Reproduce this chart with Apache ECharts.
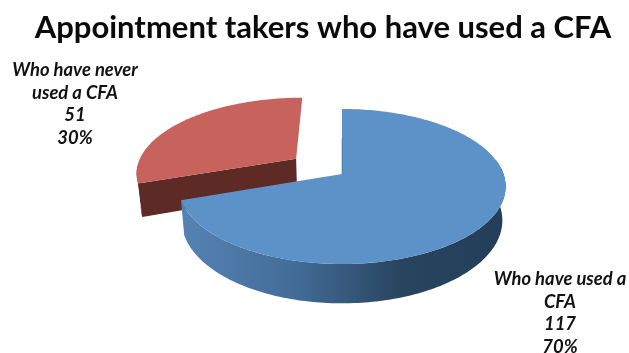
<!DOCTYPE html>
<html>
<head>
<meta charset="utf-8">
<script src="https://cdn.jsdelivr.net/npm/echarts@6/dist/echarts.min.js"></script>
<style>
  html, body { margin: 0; padding: 0; background: #fff; }
  #chart { width: 629px; height: 353px; }
</style>
</head>
<body>
<div id="chart"></div>
<script>
// Chart content
const chartTitle = 'Appointment takers who have used a CFA';
const categories = ['Who have used a\nCFA', 'Who have never\nused a CFA'];
const counts = [117, 51];

// Colours per slice: top surface and side wall
const topColors = ['#5d92c8', '#c8625c'];
const sideColors = [null, '#5e2a26'];
const blueWallStops = [
  { offset: 0, color: '#5483b3' },
  { offset: 0.35, color: '#436c98' },
  { offset: 0.68, color: '#28445f' },
  { offset: 1, color: '#243e5a' }
];

// Projection of the tilted disc onto the page
const view = { cx: 342, cy: 174, rx: 161.5, ry: 75.5, persp: 0.161, depth: 33, shrink: 0.02 };
const explodeBy = [0, 0.36];
const labelAnchors = [[560, 313], [75, 104]];

const total = counts.reduce((s, c) => s + c, 0);

// Maps a disc point (u right, v toward the viewer, z 0 on top and 1 at the base) to the page
function project(u, v, z) {
  const p = 1 / (1 - view.persp * v);
  const s = 1 - view.shrink * z;
  return [view.cx + view.rx * u * p * s, view.cy + (view.ry * v + view.depth * z) * p];
}

function sliceSpan(index) {
  let before = 0;
  for (let i = 0; i < index; i++) before += counts[i];
  return [before / total * Math.PI * 2, (before + counts[index]) / total * Math.PI * 2];
}

// Rim points of a slice between two clockwise angles measured from twelve o'clock
function rim(from, to, off, z) {
  const steps = Math.max(2, Math.ceil(Math.abs(to - from) / 0.02));
  const pts = [];
  for (let i = 0; i <= steps; i++) {
    const t = from + (to - from) * i / steps;
    pts.push(project(off[0] + Math.sin(t), off[1] - Math.cos(t), z));
  }
  return pts;
}

function renderSlice(params, api) {
  const i = params.dataIndex;
  const [start, end] = sliceSpan(i);
  const mid = (start + end) / 2;
  const off = [Math.sin(mid) * explodeBy[i], -Math.cos(mid) * explodeBy[i]];
  const apexTop = project(off[0], off[1], 0);
  const apexBase = project(off[0], off[1], 1);
  const order = i === 0 ? 10 : 1;
  const children = [];

  if (i === 0) {
    // Curved front wall of the large slice, shaded from left to right
    const a = Math.PI * 0.44;
    const wall = rim(a, end, off, 0).concat(rim(a, end, off, 1).reverse());
    children.push({
      type: 'polygon', z2: order, shape: { points: wall },
      style: { fill: new echarts.graphic.LinearGradient(0, 0, 1, 0, blueWallStops) }
    });
  } else {
    // Front-facing cut and the short outer wall of the pulled-out slice
    const cornerTop = rim(start, start, off, 0)[0];
    const cornerBase = rim(start, start, off, 1)[0];
    children.push({
      type: 'polygon', z2: order,
      shape: { points: [apexTop, cornerTop, cornerBase, apexBase] },
      style: { fill: sideColors[i] }
    });
    const a = start + 0.25;
    const wall = rim(start, a, off, 0).concat(rim(start, a, off, 1).reverse());
    children.push({
      type: 'polygon', z2: order, shape: { points: wall },
      style: { fill: sideColors[i] }
    });
  }

  children.push({
    type: 'polygon', z2: order + 1,
    shape: { points: [apexTop].concat(rim(start, end, off, 0)) },
    style: { fill: topColors[i] }
  });

  if (i === 0) {
    // Thin shaded seam along the cut that is seen edge-on at twelve o'clock
    const back = rim(start, start, off, 0)[0];
    const seamEnd = [apexTop[0] + (back[0] - apexTop[0]) * 0.55, apexTop[1] + (back[1] - apexTop[1]) * 0.55];
    children.push({
      type: 'line', z2: order + 2,
      shape: { x1: apexTop[0], y1: apexTop[1], x2: seamEnd[0], y2: seamEnd[1] },
      style: { stroke: 'rgba(45,75,105,0.45)', lineWidth: 1 }
    });
  }

  const share = Math.round(api.value(0) / total * 100);
  children.push({
    type: 'text', z2: 20,
    x: labelAnchors[i][0], y: labelAnchors[i][1],
    style: {
      text: categories[i] + '\n' + api.value(0) + '\n' + share + '%',
      font: 'italic bold 18.4px Lato',
      lineHeight: 22.5,
      fill: '#111',
      align: 'center',
      verticalAlign: 'middle'
    }
  });

  return { type: 'group', children };
}

const chart = echarts.init(document.getElementById('chart'));
chart.setOption({
  animation: false,
  backgroundColor: '#fff',
  title: {
    text: chartTitle,
    left: 318,
    textAlign: 'center',
    top: 7,
    textStyle: { fontFamily: 'Lato', fontWeight: 'bold', fontSize: 31, color: '#0a0a0a' }
  },
  series: [{
    type: 'custom',
    coordinateSystem: 'none',
    renderItem: renderSlice,
    data: counts.map((c, i) => ({ name: categories[i], value: [c] }))
  }]
});
</script>
</body>
</html>
